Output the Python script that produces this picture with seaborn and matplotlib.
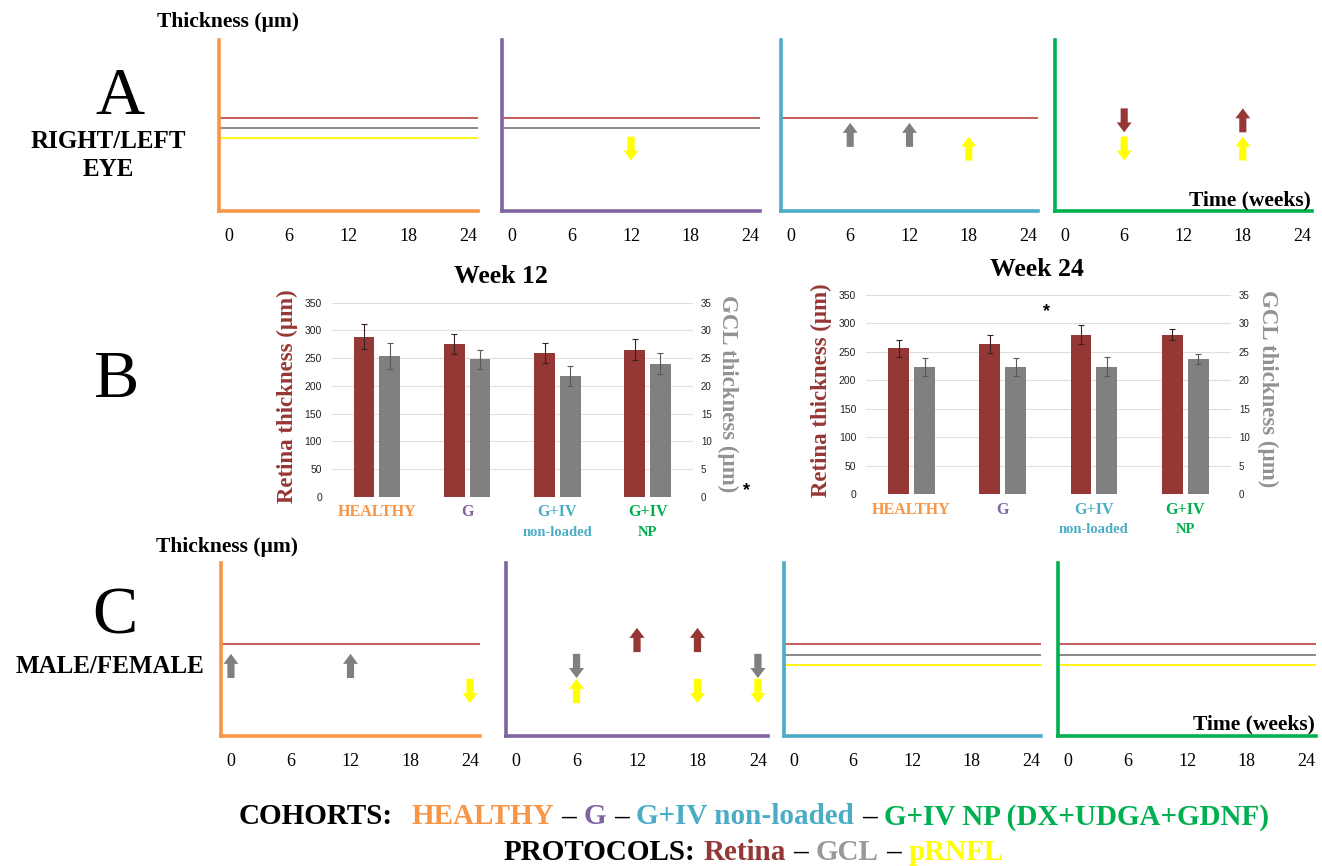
import numpy as np
import matplotlib
matplotlib.use("Agg")
import matplotlib.pyplot as plt
import matplotlib.transforms as mtransforms
from matplotlib.offsetbox import TextArea, HPacker, DrawingArea, AnnotationBbox
import seaborn as sns

sns.set_style("white")
plt.rcParams["font.family"] = ["Liberation Serif", "DejaVu Serif"]
plt.rcParams["text.color"] = "black"
plt.rcParams["xtick.color"] = "black"
plt.rcParams["ytick.color"] = "black"

# ---------------------------------------------------------------- data
cohorts = ["HEALTHY", "G", "G+IV non-loaded", "G+IV NP"]
cohort_top = ["HEALTHY", "G", "G+IV", "G+IV"]
cohort_sub = ["", "", "non-loaded", "NP"]
protocols = ["Retina", "GCL", "pRNFL"]
weeks = [0, 6, 12, 18, 24]

# OCT thickness at week 12 (mean, SD)
retina_w12 = [289, 275, 260, 265]
retina_w12_sd = [23, 18, 18, 19]
gcl_w12 = [25.4, 24.8, 21.8, 24.0]
gcl_w12_sd = [2.3, 1.7, 1.75, 1.9]
# OCT thickness at week 24 (mean, SD)
retina_w24 = [256, 264, 280, 280]
retina_w24_sd = [14.5, 16.5, 17, 9.5]
gcl_w24 = [22.3, 22.3, 22.4, 23.7]
gcl_w24_sd = [1.55, 1.6, 1.65, 0.9]

# protocols without differences over time, per cohort
eye_stable = [["Retina", "GCL", "pRNFL"], ["Retina", "GCL"], ["Retina"], []]
sex_stable = [["Retina"], [], ["Retina", "GCL", "pRNFL"], ["Retina", "GCL", "pRNFL"]]
# significant differences: (cohort, week, protocol, direction)
eye_changes = [
    (1, 12, "pRNFL", -1),
    (2, 6, "GCL", 1), (2, 12, "GCL", 1), (2, 18, "pRNFL", 1),
    (3, 6, "Retina", -1), (3, 6, "pRNFL", -1),
    (3, 18, "Retina", 1), (3, 18, "pRNFL", 1),
]
sex_changes = [
    (0, 0, "GCL", 1), (0, 12, "GCL", 1), (0, 24, "pRNFL", -1),
    (1, 6, "GCL", -1), (1, 6, "pRNFL", 1),
    (1, 12, "Retina", 1), (1, 18, "Retina", 1), (1, 18, "pRNFL", -1),
    (1, 24, "GCL", -1), (1, 24, "pRNFL", -1),
]

# ---------------------------------------------------------------- style
cohort_colors = ["#F79646", "#8064A2", "#4BACC6", "#00B050"]
protocol_colors = {"Retina": "#953735", "GCL": "#808080", "pRNFL": "#FFFF00"}
line_colors = {"Retina": "#C0504D", "GCL": "#7F7F7F", "pRNFL": "#FFF200"}
GCL_LABEL = "#929292"
SERIF = "Liberation Serif"
SANS = "Liberation Sans"

W, H = 1322, 866
fig = plt.figure(figsize=(W / 100, H / 100), dpi=100)
fig.patch.set_facecolor("white")


def add_ax(left, top, right, bottom):
    return fig.add_axes([left / W, 1 - bottom / H, (right - left) / W, (bottom - top) / H])


def ftext(x, y, s, **kw):
    return fig.text(x / W, 1 - y / H, s, **kw)


# ---------------------------------------------------------------- timeline panels
def timeline(rect, ci, stable, changes, line_lv, arrow_lv, time_label):
    ax = add_ax(*rect)
    ax.set_xlim(-1, 25)
    ax.set_ylim(0, 1)
    ax.patch.set_alpha(0)
    for s in ("top", "right"):
        ax.spines[s].set_visible(False)
    for s in ("left", "bottom"):
        ax.spines[s].set_color(cohort_colors[ci])
        ax.spines[s].set_linewidth(2.6)
    ax.set_yticks([])
    ax.set_xticks(weeks)
    ax.set_xticklabels([str(w) for w in weeks], fontsize=13, family=SERIF)
    ax.tick_params(axis="x", length=0, pad=12, colors="black")
    for p in stable:
        ax.axhline(line_lv[p], color=line_colors[p], lw=1.3, zorder=2)
    L = 0.14
    for c, wk, p, d in changes:
        if c != ci:
            continue
        tail = arrow_lv[p] - d * L / 2
        ax.arrow(wk, tail, 0, d * L, width=0.72, head_width=1.5, head_length=0.058,
                 length_includes_head=True, color=protocol_colors[p], lw=0, zorder=3)
    if time_label:
        ax.text(0.995, 0.035, "Time (weeks)", transform=ax.transAxes, ha="right",
                va="baseline", fontsize=15.5, fontweight="bold", family=SERIF)
    return ax


eye_lines = {"Retina": 0.544, "GCL": 0.485, "pRNFL": 0.427}
eye_arrows = {"Retina": 0.53, "GCL": 0.445, "pRNFL": 0.365}
sex_lines = {"Retina": 0.53, "GCL": 0.468, "pRNFL": 0.41}
sex_arrows = {"Retina": 0.555, "GCL": 0.405, "pRNFL": 0.26}

row_a = [(219, 40, 478, 211), (502, 40, 760, 211), (781, 40, 1038, 211), (1055, 40, 1312, 211)]
row_c = [(221, 563, 480, 736), (506, 563, 768, 736), (784, 563, 1041, 736), (1058, 563, 1316, 736)]

for i, r in enumerate(row_a):
    timeline(r, i, eye_stable[i], eye_changes, eye_lines, eye_arrows, i == 3)
for i, r in enumerate(row_c):
    timeline(r, i, sex_stable[i], sex_changes, sex_lines, sex_arrows, i == 3)


# ---------------------------------------------------------------- bar panels
def bar_panel(rect, retina, retina_sd, gcl, gcl_sd, title, lab_x, r_x, title_y, cat_y, star):
    ax = add_ax(*rect)
    ax2 = ax.twinx()
    pos = np.arange(len(cohorts))
    off = 0.142
    sns.barplot(x=pos - off, y=retina, native_scale=True, width=0.23,
                color=protocol_colors["Retina"], saturation=1, errorbar=None,
                linewidth=0, ax=ax)
    sns.barplot(x=pos + off, y=gcl, native_scale=True, width=0.23,
                color=protocol_colors["GCL"], saturation=1, errorbar=None,
                linewidth=0, ax=ax2)
    ax.errorbar(pos - off, retina, yerr=retina_sd, fmt="none", ecolor="#3a2020",
                elinewidth=0.8, capsize=2.2, capthick=0.8, zorder=4)
    ax2.errorbar(pos + off, gcl, yerr=gcl_sd, fmt="none", ecolor="#5a5a5a",
                 elinewidth=0.8, capsize=2.2, capthick=0.8, zorder=4)
    ax.set_xlim(-0.5, 3.5)
    ax.set_ylim(0, 350)
    ax2.set_ylim(0, 35)
    ax.set_yticks(np.arange(0, 351, 50))
    ax2.set_yticks(np.arange(0, 36, 5))
    ax.set_xticks([])
    for a in (ax, ax2):
        a.set_xlabel("")
        a.set_ylabel("")
        for s in a.spines.values():
            s.set_visible(False)
    ax.yaxis.grid(True, color="#DEDEDE", lw=0.8)
    ax.set_axisbelow(True)
    ax.tick_params(axis="y", length=0, labelsize=7.5, pad=7, labelcolor="#222222")
    ax2.tick_params(axis="y", length=0, labelsize=7, pad=6, labelcolor="#222222")
    for t in ax.get_yticklabels():
        t.set_family(SANS)
    for t in ax2.get_yticklabels():
        t.set_family(SANS)

    ax.text(lab_x, 0.52, "Retina thickness (µm)", transform=ax.transAxes, rotation=90,
            ha="center", va="center", fontsize=16.5, fontweight="bold",
            color=protocol_colors["Retina"], family=SERIF)
    ax.text(r_x, 0.53, "GCL thickness (µm)", transform=ax.transAxes, rotation=270,
            ha="center", va="center", fontsize=16.5, fontweight="bold",
            color=GCL_LABEL, family=SERIF)
    ax.text(0.47, title_y, title, transform=ax.transAxes, ha="center", va="center",
            fontsize=18.5, fontweight="bold", family=SERIF)
    tr = mtransforms.blended_transform_factory(ax.transData, ax.transAxes)
    for i in range(len(cohorts)):
        ax.text(i, cat_y[0], cohort_top[i], transform=tr, ha="center", va="center",
                fontsize=11.5, fontweight="bold", color=cohort_colors[i], family=SERIF)
        if cohort_sub[i]:
            ax.text(i, cat_y[1], cohort_sub[i], transform=tr, ha="center", va="center",
                    fontsize=10.5, fontweight="bold", color=cohort_colors[i], family=SERIF)
    ax.text(star[0], star[1], "*", transform=star[2](ax), ha="center", va="center",
            fontsize=13, fontweight="bold", family=SANS)
    return ax


bar_panel((331.7, 302.7, 692.7, 496.7), retina_w12, retina_w12_sd, gcl_w12, gcl_w12_sd,
          "Week 12", -0.124, 1.098, 1.133, (-0.079, -0.182),
          (1.148, 0.03, lambda a: a.transAxes))
bar_panel((866, 295, 1230.7, 494), retina_w24, retina_w24_sd, gcl_w24, gcl_w24_sd,
          "Week 24", -0.121, 1.10, 1.126, (-0.080, -0.176),
          (1.48, 321, lambda a: a.transData))

# ---------------------------------------------------------------- panel annotations
big = dict(fontsize=49, family=SERIF, ha="center", va="baseline")
ftext(120, 114, "A", **big)
ftext(116, 397, "B", **big)
ftext(115, 633, "C", **big)

side = dict(fontsize=18, fontweight="bold", family=SERIF, ha="center", va="baseline")
ftext(108, 148, "RIGHT/LEFT", **side)
ftext(108, 176, "EYE", **side)
ftext(110, 673, "MALE/FEMALE", **side)

yl = dict(fontsize=15.5, fontweight="bold", family=SERIF, ha="center", va="baseline")
ftext(228, 27, "Thickness (µm)", **yl)
ftext(227, 552, "Thickness (µm)", **yl)


# ---------------------------------------------------------------- colour key
def key_line(parts, x, y, size=21):
    kids = []
    for txt, col, gap in parts:
        if gap:
            kids.append(DrawingArea(gap, 1))
        kids.append(TextArea(txt, textprops=dict(color=col, fontsize=size, fontweight="bold",
                                                 family=SERIF)))
    box = HPacker(children=kids, align="baseline", pad=0, sep=0)
    ab = AnnotationBbox(box, (x, H - y), xycoords="figure pixels", frameon=False,
                        box_alignment=(0.5, 0.5), pad=0)
    fig.add_artist(ab)


sp = 5.5
key_line([("COHORTS:", "black", 0),
          ("HEALTHY", cohort_colors[0], 2 * sp + 2),
          ("–", "black", sp), ("G", cohort_colors[1], sp),
          ("–", "black", sp), ("G+IV non-loaded", cohort_colors[2], sp),
          ("–", "black", sp), ("G+IV NP (DX+UDGA+GDNF)", cohort_colors[3], sp)],
         754, 817)
key_line([("PROTOCOLS:", "black", 0),
          ("Retina", protocol_colors["Retina"], sp),
          ("–", "black", sp), ("GCL", "#999999", sp),
          ("–", "black", sp), ("pRNFL", "#FFFF00", sp)],
         754, 852)

fig.savefig("out.png", dpi=100)
